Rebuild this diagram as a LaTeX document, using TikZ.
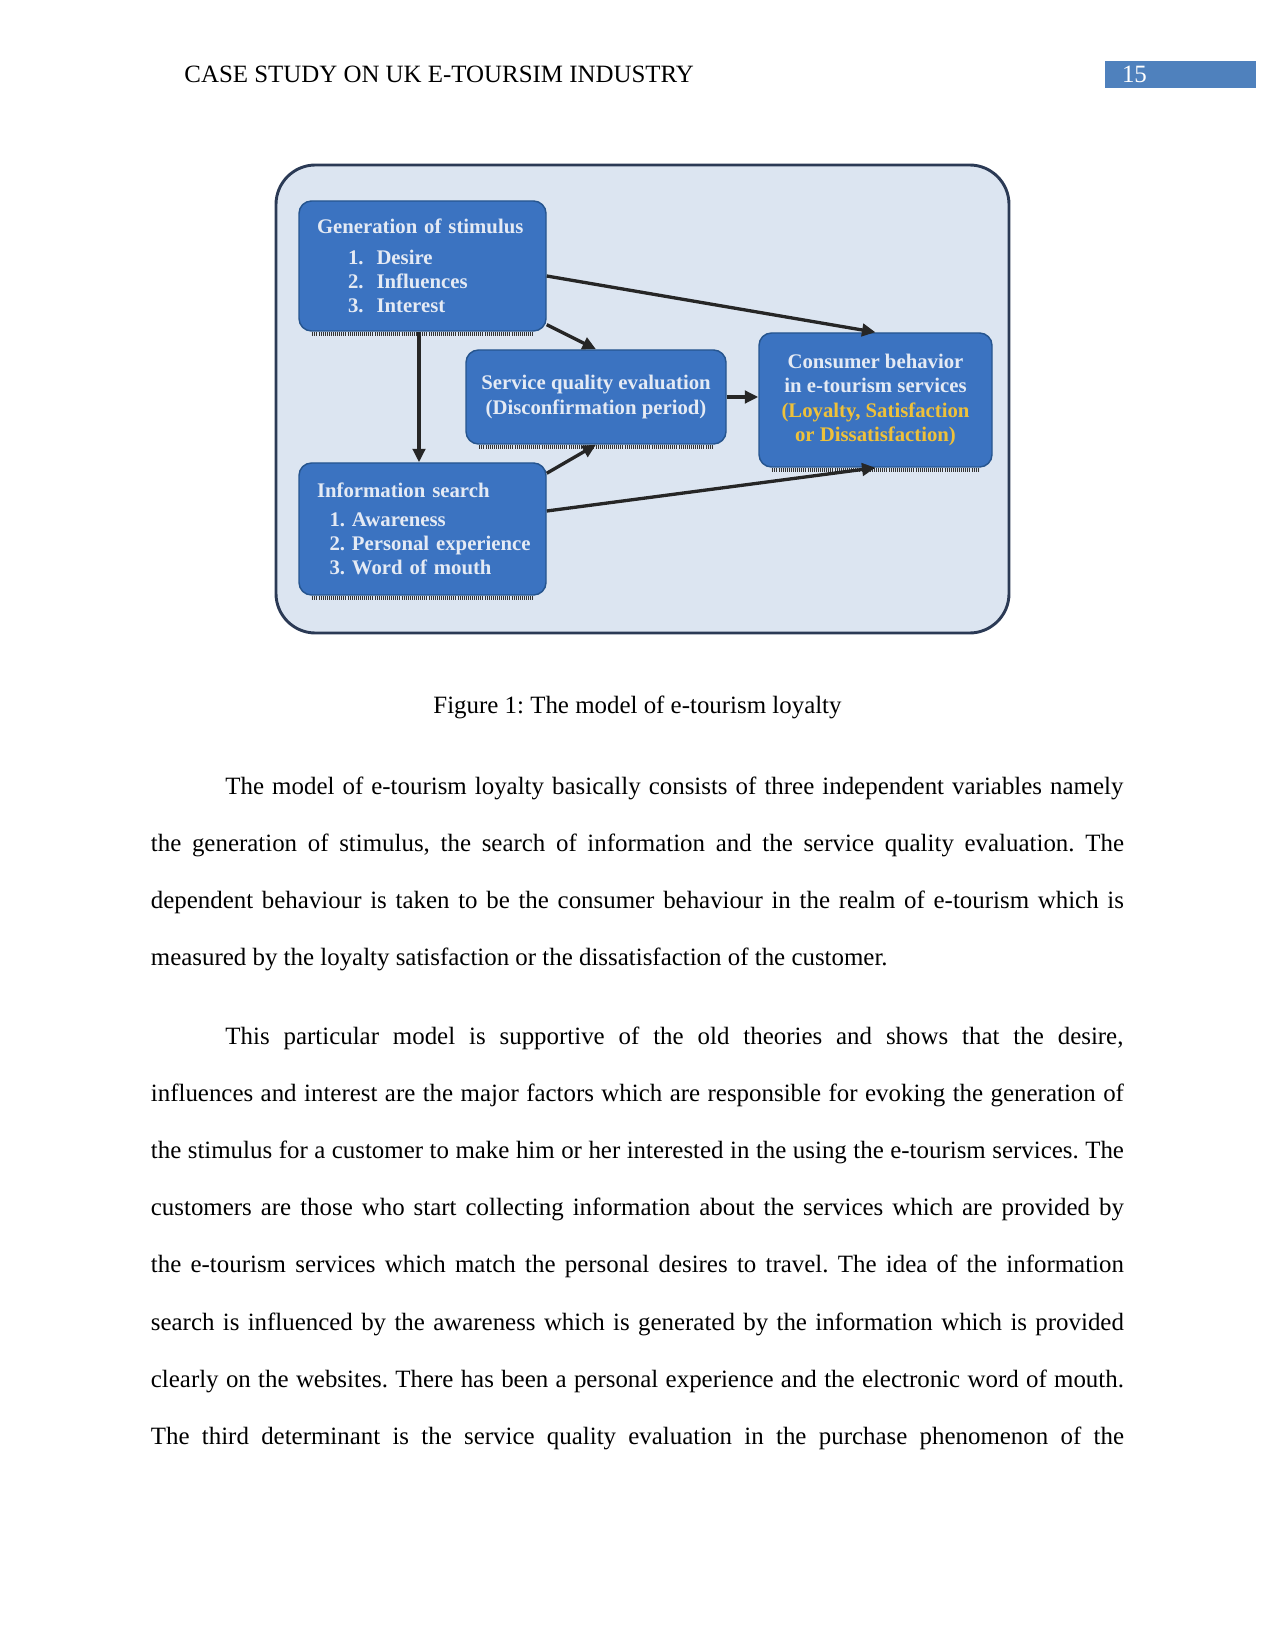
\documentclass[tikz,border=0pt]{standalone}
\usepackage{fontspec}
\setmainfont{Liberation Serif}
\usetikzlibrary{arrows.meta,calc}
\definecolor{FrameFill}{HTML}{DCE5F1}
\definecolor{FrameLine}{HTML}{2B3A55}
\definecolor{BoxFill}{HTML}{3B73C1}
\definecolor{BoxLine}{HTML}{26558F}
\definecolor{BoxText}{HTML}{E4EAF4}
\definecolor{Gold}{HTML}{EEC13A}
\definecolor{HeadBlue}{HTML}{4F81BD}
\newlength\pix \setlength\pix{0.4818pt}
\newlength\fullw \setlength\fullw{973\pix}
\newlength\indw \setlength\indw{898\pix}
\frenchspacing

\begin{document}
\begin{tikzpicture}[
  x=0.4818pt,y=-0.4818pt,
  stage/.style={draw=BoxLine,line width=0.7pt,fill=BoxFill,rounded corners=6pt,
    text=BoxText,font=\fontsize{10}{11.6}\selectfont\bfseries,inner ysep=0pt},
  liststage/.style={stage,align=left,inner xsep=18\pix,text width=211\pix},
  midstage/.style={stage,align=center},
  shade/.style={draw=black!80,line width=2pt,dash pattern=on 0.4pt off 0.6pt},
  frame/.style={draw=FrameLine,line width=1.4pt,fill=FrameFill,rounded corners=19pt},
  flow/.style={-{Triangle[length=6.5pt,width=6pt]},line width=1.6pt,draw=black!85},
  jline/.style={anchor=base west,inner sep=0pt,font=\fontsize{12}{14}\selectfont},
  pagenum/.style={fill=HeadBlue,text=white,font=\fontsize{12}{14}\selectfont,
    align=left,inner xsep=17\pix,text width=117\pix,minimum height=27\pix,inner ysep=0pt}
]
  \useasboundingbox[fill=white] (0,0) rectangle (1275,1651);

  % running head
  \node[jline] (header) at (184,83) {CASE STUDY ON UK E-TOURSIM INDUSTRY};
  \node[pagenum] (pageno) at (1180.5,74.5) {15};

  % figure
  \draw[frame] (276,165) rectangle (1009,633);

  \node[liststage,minimum height=130\pix] (gen) at (422.5,266)
    {Generation of stimulus\\[3.4pt]
     \hspace*{31\pix}\makebox[28.5\pix][l]{1.}Desire\\
     \hspace*{31\pix}\makebox[28.5\pix][l]{2.}Influences\\
     \hspace*{31\pix}\makebox[28.5\pix][l]{3.}Interest};
  \node[midstage,minimum width=260\pix,minimum height=94\pix] (serv) at (596,397)
    {Service quality evaluation\\[0.7pt](Disconfirmation period)};
  \node[midstage,minimum width=233\pix,minimum height=134\pix] (cons) at (875.5,400)
    {Consumer behavior\\in e-tourism services\\
     \textcolor{Gold}{(Loyalty, Satisfaction}\\\textcolor{Gold}{or Dissatisfaction)}};
  \node[liststage,minimum height=132\pix] (info) at (422.5,529)
    {Information search\\[2pt]
     \hspace*{12.5\pix}1. Awareness\\
     \hspace*{12.5\pix}\mbox{2. Personal experience}\\
     \hspace*{12.5\pix}3. Word of mouth};

  % hatched shadows under the boxes
  \draw[shade] ($(gen.south west)+(14,2.5)$) -- ($(gen.south east)+(-14,2.5)$);
  \draw[shade] ($(serv.south west)+(14,2.5)$) -- ($(serv.south east)+(-14,2.5)$);
  \draw[shade] ($(cons.south west)+(14,2.5)$) -- ($(cons.south east)+(-14,2.5)$);
  \draw[shade] ($(info.south west)+(14,2.5)$) -- ($(info.south east)+(-14,2.5)$);

  % links
  \draw[flow] ($(gen.east)+(0,10)$) -- (cons.north);
  \draw[flow] ($(gen.south east)+(0,-7)$) -- (serv.north);
  \draw[flow] ($(gen.south)+(-3.5,0)$) -- ($(info.north)+(-3.5,0)$);
  \draw[flow] (serv.east) -- (serv.east -| cons.west);
  \draw[flow] ($(info.north east)+(0,11)$) -- (serv.south);
  \draw[flow] ($(info.east)+(0,-18)$) -- (cons.south);

  \node[jline,anchor=base] (caption) at (637.5,713) {Figure 1: The model of e-tourism loyalty};

  % first paragraph
  \node[jline] (p1a) at (225,794) {\makebox[\indw][s]{The model of e-tourism loyalty basically consists of three independent variables namely}};
  \node[jline] (p1b) at (150.5,851.2) {\makebox[\fullw][s]{the generation of stimulus, the search of information and the service quality evaluation. The}};
  \node[jline] (p1c) at (150.5,908.4) {\makebox[\fullw][s]{dependent behaviour is taken to be the consumer behaviour in the realm of e-tourism which is}};
  \node[jline] (p1d) at (150.5,965.6) {measured by the loyalty satisfaction or the dissatisfaction of the customer.};

  % second paragraph
  \node[jline] (p2a) at (225,1044) {\makebox[\indw][s]{This particular model is supportive of the old theories and shows that the desire,}};
  \node[jline] (p2b) at (150.5,1101.2) {\makebox[\fullw][s]{influences and interest are the major factors which are responsible for evoking the generation of}};
  \node[jline] (p2c) at (150.5,1158.4) {\makebox[\fullw][s]{the stimulus for a customer to make him or her interested in the using the e-tourism services. The}};
  \node[jline] (p2d) at (150.5,1215.6) {\makebox[\fullw][s]{customers are those who start collecting information about the services which are provided by}};
  \node[jline] (p2e) at (150.5,1272.8) {\makebox[\fullw][s]{the e-tourism services which match the personal desires to travel. The idea of the information}};
  \node[jline] (p2f) at (150.5,1330) {\makebox[\fullw][s]{search is influenced by the awareness which is generated by the information which is provided}};
  \node[jline] (p2g) at (150.5,1387.2) {\makebox[\fullw][s]{clearly on the websites. There has been a personal experience and the electronic word of mouth.}};
  \node[jline] (p2h) at (150.5,1444.4) {\makebox[\fullw][s]{The third determinant is the service quality evaluation in the purchase phenomenon of the}};
\end{tikzpicture}
\end{document}
